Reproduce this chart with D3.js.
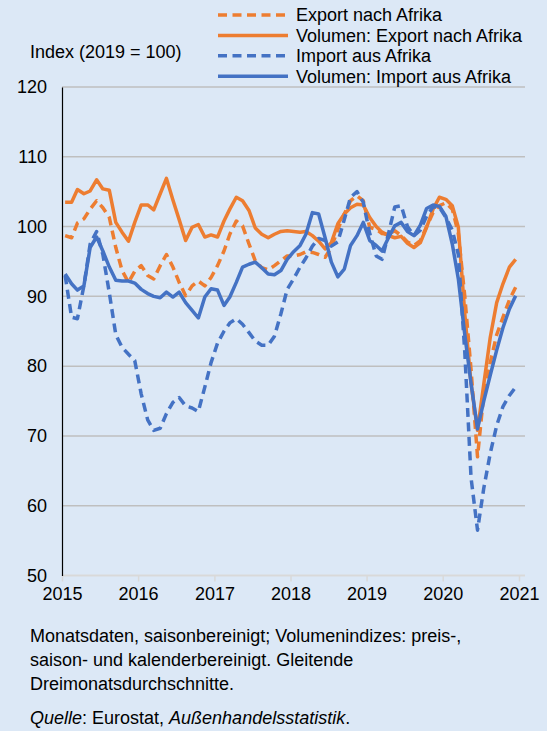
<!DOCTYPE html>
<html>
<head>
<meta charset="utf-8">
<script src="https://cdn.jsdelivr.net/npm/d3@7"></script>
<style>
  body { margin: 0; background: #dce8f6; }
  svg { display: block; font-family: "Liberation Sans", Arial, sans-serif; }
</style>
</head>
<body>
<script>
// Monatswerte Jan 2015 - Dez 2020
var exportNom = [98.7, 98.4, 100.5, 101.1, 102.5, 103.7, 102.7, 101.3, 97.0, 93.7, 92.0, 93.6,
  94.4, 93.0, 92.5, 94.4, 96.0, 94.2, 92.0, 90.1, 91.5, 92.2, 91.5, 92.7,
  94.4, 96.5, 98.9, 100.8, 100.1, 97.5, 95.1, 94.1, 93.8, 94.4, 95.1, 95.8,
  95.8, 96.0, 96.4, 96.3, 96.0, 95.6, 97.0, 99.6, 101.8, 103.7, 104.4, 103.7,
  99.9, 99.6, 99.0, 98.9, 99.4, 98.7, 97.8, 97.3, 98.0, 100.0, 102.0, 103.0,
  103.4, 102.5, 99.0, 90.0, 79.5, 67.0, 76.0, 80.5, 84.5, 87.0, 89.5, 91.3];

var exportVol = [103.5, 103.5, 105.3, 104.7, 105.1, 106.7, 105.4, 105.2, 100.6, 99.2, 97.9, 100.6,
  103.1, 103.1, 102.4, 104.7, 106.9, 103.8, 101.0, 98.0, 99.9, 100.3, 98.5, 98.8,
  98.5, 100.8, 102.5, 104.2, 103.7, 102.3, 99.8, 98.9, 98.4, 98.9, 99.3, 99.4,
  99.3, 99.2, 99.3, 98.7, 97.9, 96.8, 97.7, 100.4, 101.8, 102.7, 103.2, 103.1,
  101.3, 100.0, 99.2, 98.7, 98.4, 98.6, 97.6, 97.0, 97.7, 99.9, 102.5, 104.2,
  103.9, 103.0, 99.9, 87.5, 77.5, 70.8, 77.4, 84.1, 89.1, 91.8, 94.2, 95.3];

var importNom = [93.0, 87.0, 86.8, 91.5, 97.5, 99.3, 96.0, 90.5, 84.5, 82.7, 81.7, 80.8,
  76.0, 72.3, 70.8, 71.1, 73.2, 74.8, 75.5, 74.3, 74.0, 73.5, 77.0, 80.5,
  83.3, 85.0, 86.2, 86.8, 86.0, 84.8, 83.6, 83.0, 83.0, 84.3, 87.5, 91.0,
  92.5, 94.2, 95.5, 97.2, 98.3, 98.0, 97.2, 97.8, 101.0, 104.2, 105.0, 103.5,
  99.0, 95.8, 95.3, 99.0, 102.8, 103.0, 100.0, 98.7, 99.5, 101.5, 102.8, 102.8,
  101.3, 99.5, 96.0, 82.0, 64.0, 56.5, 62.5, 67.5, 71.5, 74.2, 75.8, 77.0];

var importVol = [93.2, 91.8, 90.9, 91.5, 97.0, 98.5, 96.5, 94.2, 92.3, 92.2, 92.2, 91.9,
  91.0, 90.4, 90.0, 89.8, 90.6, 89.9, 90.6, 89.1, 88.0, 86.9, 89.9, 91.1,
  90.9, 88.7, 89.9, 92.0, 94.2, 94.6, 94.9, 94.1, 93.2, 93.1, 93.7, 95.3,
  96.4, 97.3, 98.9, 102.0, 101.8, 98.4, 94.9, 92.8, 93.9, 97.3, 98.7, 100.6,
  98.0, 97.3, 96.5, 98.4, 100.1, 100.6, 99.3, 98.7, 100.2, 102.6, 103.1, 102.9,
  101.5, 97.5, 92.5, 84.5, 77.5, 71.0, 75.0, 78.7, 82.3, 85.5, 88.2, 90.1];

var seriesNames = ["Export nach Afrika", "Volumen: Export nach Afrika",
  "Import aus Afrika", "Volumen: Import aus Afrika"];
var yTicks = [50, 60, 70, 80, 90, 100, 110, 120];

var w = 547;
var h = 731;
var orange = "#ed7d31";
var blue = "#4472c4";

var series = [
  {name: seriesNames[0], values: exportNom, color: orange, dash: "9,5.5"},
  {name: seriesNames[1], values: exportVol, color: orange, dash: null},
  {name: seriesNames[2], values: importNom, color: blue, dash: "9,5.5"},
  {name: seriesNames[3], values: importVol, color: blue, dash: null}
];

var svg = d3.select("body").append("svg")
  .attr("width", w).attr("height", h);

// skalen
var xScale = d3.scaleTime()
  .domain([new Date(2015, 0, 1), new Date(2021, 0, 1)])
  .range([62, 519]);
var yScale = d3.scaleLinear()
  .domain([50, 120])
  .range([575.5, 87]);

function monthDate(i) {
  return new Date(2015, i, 16);
}

// gitter
svg.selectAll("line.grid")
  .data(yTicks.slice(1))
  .enter()
  .append("line")
  .attr("class", "grid")
  .attr("x1", 62).attr("x2", 525)
  .attr("y1", function(d) { return yScale(d); })
  .attr("y2", function(d) { return yScale(d); })
  .attr("stroke", "#bfbfbf")
  .attr("stroke-width", 1.5);

// x-achse
var xAxis = d3.axisBottom(xScale)
  .ticks(d3.timeYear.every(1))
  .tickFormat(d3.timeFormat("%Y"))
  .tickSize(6)
  .tickPadding(6);

var gx = svg.append("g")
  .attr("transform", "translate(0," + yScale(50) + ")")
  .call(xAxis);
gx.select(".domain").remove();
gx.append("line")
  .attr("x1", 62).attr("x2", 525)
  .attr("stroke", "#d9d9d9").attr("stroke-width", 2);
gx.selectAll(".tick line").attr("stroke", "#d9d9d9").attr("stroke-width", 1.5);
gx.selectAll("text")
  .attr("fill", "#000")
  .attr("font-size", "18px")
  .attr("font-family", "Liberation Sans, Arial, sans-serif");

// y-achse
var yAxis = d3.axisLeft(yScale)
  .tickValues(yTicks)
  .tickSize(0)
  .tickPadding(15);

var gy = svg.append("g")
  .attr("transform", "translate(62,0)")
  .call(yAxis);
gy.select(".domain").attr("stroke", "#000").attr("stroke-width", 1.2);
gy.selectAll("text")
  .attr("fill", "#000")
  .attr("font-size", "18px")
  .attr("font-family", "Liberation Sans, Arial, sans-serif");

// linien
var line = d3.line()
  .x(function(d, i) { return xScale(monthDate(i)); })
  .y(function(d) { return yScale(d); });

svg.selectAll("path.series")
  .data(series)
  .enter()
  .append("path")
  .attr("class", "series")
  .attr("d", function(d) { return line(d.values); })
  .attr("fill", "none")
  .attr("stroke", function(d) { return d.color; })
  .attr("stroke-width", 3.5)
  .attr("stroke-linejoin", "round")
  .attr("stroke-dasharray", function(d) { return d.dash; });

// legende
var legend = svg.selectAll("g.legend")
  .data(series)
  .enter()
  .append("g")
  .attr("class", "legend")
  .attr("transform", function(d, i) { return "translate(218," + (15 + i * 20.4) + ")"; });

legend.append("line")
  .attr("x1", 0).attr("x2", 70)
  .attr("stroke", function(d) { return d.color; })
  .attr("stroke-width", 3.5)
  .attr("stroke-dasharray", function(d) { return d.dash; });

legend.append("text")
  .attr("x", 78).attr("dy", "0.35em")
  .attr("font-size", "18px")
  .text(function(d) { return d.name; });

// beschriftung
svg.append("text")
  .attr("x", 30).attr("y", 58)
  .attr("font-size", "18px")
  .text("Index (2019 = 100)");

var notes = ["Monatsdaten, saisonbereinigt; Volumenindizes: preis-,",
  "saison- und kalenderbereinigt. Gleitende",
  "Dreimonatsdurchschnitte."];

svg.selectAll("text.note")
  .data(notes)
  .enter()
  .append("text")
  .attr("class", "note")
  .attr("x", 30)
  .attr("y", function(d, i) { return 642 + i * 24; })
  .attr("font-size", "18px")
  .text(function(d) { return d; });

var src = svg.append("text")
  .attr("x", 30).attr("y", 724)
  .attr("font-size", "18px");
src.append("tspan").attr("font-style", "italic").text("Quelle");
src.append("tspan").text(": Eurostat, ");
src.append("tspan").attr("font-style", "italic").text("Außenhandelsstatistik");
src.append("tspan").text(".");
</script>
</body>
</html>
